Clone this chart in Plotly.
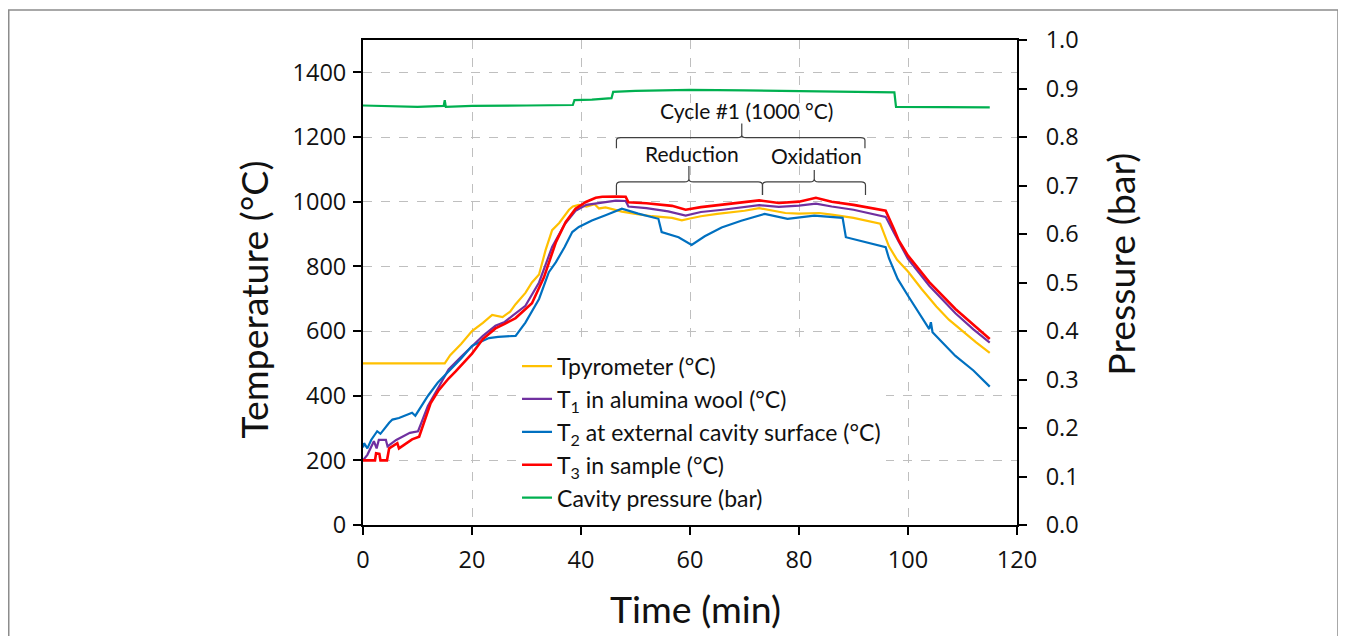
import plotly.graph_objects as go

# ---------------- data ----------------
t_pyro = [0, 15, 16, 18, 20, 22, 23.7, 25.6, 27, 28, 29.8, 31, 32.3, 33.5, 34.7, 36, 37.8, 38.5, 39.6, 41,
          42.5, 43.3, 44.5, 46, 47.5, 50, 53, 56.7, 58.5, 60, 62, 65, 68, 70, 72.7, 75, 77.5, 80, 83.7, 86,
          90, 94.9, 96.5, 98, 100, 102.5, 105.2, 107.5, 110, 112.5, 115]
T_pyro = [500, 500, 525, 560, 600, 625, 650, 643, 660, 683, 718, 750, 775, 850, 912, 934, 975, 985, 990, 985,
          992, 979, 982, 975, 969, 962, 955, 950, 942, 948, 955, 962, 968, 972, 980, 972, 965, 963, 965, 960,
          950, 932, 862, 820, 784, 730, 676, 635, 599, 565, 532]

t_T1 = [0, 0.8, 2, 2.5, 2.9, 4.2, 4.5, 6.1, 8.6, 10.1, 10.7, 11.9, 14, 15.7, 18, 20, 22, 24.3, 26, 27.4,
        29.8, 32.3, 34.7, 37, 39, 41, 43, 45, 46.4, 48.2, 48.7, 52, 56, 59.2, 62, 66, 70, 72.7, 76.3, 80,
        83.1, 86, 90, 94.7, 95.9, 97.4, 100, 103.9, 108.7, 112, 115]
T_T1 = [200, 217, 259, 237, 263, 263, 243, 263, 285, 290, 316, 368, 430, 481, 520, 554, 585, 616, 628, 647,
        678, 750, 860, 930, 972, 990, 995, 1000, 1003, 1002, 985, 980, 970, 957, 968, 975, 983, 989, 984, 988,
        994, 985, 975, 957, 953, 905, 823, 740, 655, 605, 564]

t_T2 = [0, 0.2, 0.8, 1.5, 2.6, 3.2, 4.8, 5.4, 6.6, 9.0, 9.6, 11.9, 13.7, 15.5, 18, 20, 23.1, 24.8, 28, 29.8,
        32.3, 34.1, 35.4, 37, 38.4, 39.6, 42, 44.5, 47.5, 50.5, 54.2, 54.8, 57.9, 60.3, 62.7, 65.8, 69.4, 73.7,
        77.9, 82.8, 88.0, 88.6, 92, 95.9, 96.5, 98.1, 100, 103.9, 104.2, 104.5, 106, 108.7, 112, 115]
T_T2 = [240, 253, 237, 263, 290, 282, 316, 326, 331, 347, 338, 399, 440, 471, 515, 554, 578, 582, 585, 626,
        699, 782, 813, 860, 906, 922, 942, 958, 978, 963, 947, 906, 890, 866, 893, 920, 941, 962,
        947, 957, 950, 890, 875, 859, 825, 761, 709, 606, 627, 596, 570, 523, 478, 428]

t_T3 = [0, 2.2, 2.4, 3.0, 3.2, 4.4, 4.8, 6.3, 6.6, 9.0, 10.3, 10.9, 12.4, 13.9, 15.7, 17, 20, 22, 24.3, 26,
        28, 31, 32.8, 33.2, 35.4, 37.2, 39, 40.9, 42.7, 43.9, 46.4, 48.2, 48.7, 52, 56.7, 59.2, 62, 66, 70,
        72.7, 76.3, 80, 83.1, 86, 90, 94.7, 95.9, 97.4, 98.3, 100, 103.9, 108.7, 112, 115]
T_T3 = [200, 200, 222, 220, 200, 200, 237, 253, 237, 265, 273, 304, 376, 417, 453, 475, 530, 575, 608, 622,
        640, 686, 748, 766, 875, 937, 978, 999, 1012, 1015, 1016, 1015, 998, 995, 987, 975, 983, 990, 997,
        1004, 996, 1000, 1012, 1000, 990, 975, 972, 916, 880, 833, 751, 668, 618, 575]

t_press = [0, 5, 10, 14.8, 15, 15.2, 20, 30, 38.5, 38.8, 42, 45.6, 45.9, 50, 60, 70, 80, 90, 97.5, 97.8,
           100, 110, 115]
P_press = [0.865, 0.864, 0.862, 0.864, 0.876, 0.862, 0.864, 0.865, 0.866, 0.876, 0.877, 0.880, 0.893, 0.895,
           0.897, 0.896, 0.895, 0.894, 0.892, 0.862, 0.862, 0.861, 0.861]

names = ["Tpyrometer (°C)", "T<sub>1</sub> in alumina wool (°C)", "T<sub>2</sub> at external cavity surface (°C)",
         "T<sub>3</sub> in sample (°C)", "Cavity pressure (bar)"]
colors = ["#FFC000", "#7030A0", "#0070C0", "#FF0000", "#00B050"]

x_ticks = [0, 20, 40, 60, 80, 100, 120]
y_ticks = [0, 200, 400, 600, 800, 1000, 1200, 1400]
y2_ticks = [0.0, 0.1, 0.2, 0.3, 0.4, 0.5, 0.6, 0.7, 0.8, 0.9, 1.0]

TXT = "Lato"
TICKF = "Open Sans"
INK = "#111111"

fig = go.Figure()
series = [(t_pyro, T_pyro, "y", 2.2), (t_T1, T_T1, "y", 2.2), (t_T2, T_T2, "y", 2.2), (t_T3, T_T3, "y", 2.6),
          (t_press, P_press, "y2", 2.2)]
for i, (xs, ys, ax, w) in enumerate(series):
    fig.add_trace(go.Scatter(x=xs, y=ys, yaxis=ax, mode="lines", name=names[i],
                             line=dict(color=colors[i], width=w), legendrank=i + 1))

axcol = "#000000"
tickfont = dict(family=TICKF, size=23.5, color=INK)
fig.update_layout(
    width=1346, height=636,
    margin=dict(l=355, r=337, t=32, b=119),
    paper_bgcolor="white", plot_bgcolor="white",
    showlegend=True,
    legend=dict(x=0.2355, y=0.372, xanchor="left", yanchor="top", bgcolor="white",
                font=dict(family=TXT, size=23, color=INK), tracegroupgap=0,
                itemwidth=30),
    xaxis=dict(range=[0, 120], tickvals=x_ticks, showline=True, linecolor=axcol, linewidth=2, mirror=True,
               ticks="outside", ticklen=8, tickwidth=2, tickcolor=axcol, ticklabelstandoff=5,
               showgrid=True, gridcolor="#BFBFBF", griddash="dash", gridwidth=1,
               tickfont=tickfont, zeroline=False, automargin=False),
    yaxis=dict(range=[0, 1500], tickvals=y_ticks, showline=True, linecolor=axcol, linewidth=2,
               ticks="outside", ticklen=8, tickwidth=2, tickcolor=axcol, ticklabelstandoff=2,
               showgrid=True, gridcolor="#BFBFBF", griddash="dash", gridwidth=1,
               tickfont=tickfont, zeroline=False, automargin=False),
    yaxis2=dict(range=[0, 1.0], tickvals=y2_ticks, tickformat=".1f", overlaying="y", side="right",
                showline=True, linecolor=axcol, linewidth=2, ticklabelstandoff=14,
                ticks="outside", ticklen=8, tickwidth=2, tickcolor=axcol, showgrid=False,
                tickfont=tickfont, zeroline=False, automargin=False),
)

# axis titles
tfont = dict(family=TXT, size=37.5, color=INK)
fig.add_annotation(text="Time (min)", xref="paper", yref="paper", x=0.509, y=-0.172, yanchor="middle",
                   showarrow=False, font=tfont)
fig.add_annotation(text="Temperature (°C)", xref="paper", yref="paper", x=-0.168, y=0.465,
                   xanchor="center", yanchor="middle", textangle=-90, showarrow=False, font=tfont)
fig.add_annotation(text="Pressure (bar)", xref="paper", yref="paper", x=1.157, y=0.538,
                   xanchor="center", yanchor="middle", textangle=-90, showarrow=False, font=tfont)

# cycle annotations
br = "#404040"
afont = dict(family=TXT, size=21, color=INK)
fig.add_annotation(text="Cycle #1 (1000 °C)", x=70.3, y=1283, showarrow=False, font=afont)
fig.add_annotation(text="Reduction", x=60.4, y=1149, showarrow=False, font=afont)
fig.add_annotation(text="Oxidation", x=83.3, y=1144, showarrow=False, font=afont)


def brace(x0, x1, xm, yh, ytip, ytop):
    r = 0.8
    rr = (yh - ytip) * 0.25
    return (f"M {x0},{ytip} L {x0},{yh - rr} Q {x0},{yh} {x0 + r},{yh} L {xm - r},{yh} "
            f"Q {xm},{yh} {xm},{yh + rr} L {xm},{ytop} L {xm},{yh + rr} Q {xm},{yh} {xm + r},{yh} "
            f"L {x1 - r},{yh} Q {x1},{yh} {x1},{yh - rr} L {x1},{ytip}")


for args in [(46.5, 92.1, 69.5, 1198, 1165, 1242),
             (46.5, 73.3, 59.8, 1061, 1021, 1110),
             (73.3, 92.2, 82.8, 1061, 1021, 1098)]:
    fig.add_shape(type="path", path=brace(*args), xref="x", yref="y",
                  line=dict(color=br, width=1.2))

# outer frame (figure pixel coords converted to paper units)
PL, PW, PT, PH = 355, 654, 32, 485
fig.add_shape(type="rect", xref="paper", yref="paper",
              x0=(0.75 - PL) / PW, x1=(1330 - PL) / PW,
              y0=(PT + PH - 700) / PH, y1=(PT + PH - 2) / PH,
              line=dict(color="#8c8c8c", width=1.5), fillcolor="rgba(0,0,0,0)")

fig.write_html("out.html")
